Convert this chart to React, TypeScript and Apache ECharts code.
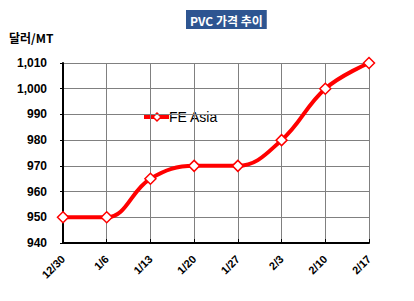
import React, { useEffect, useRef } from "react";
import * as echarts from "echarts";

const categories = ["12/30", "1/6", "1/13", "1/20", "1/27", "2/3", "2/10", "2/17"];
const feAsia = [950, 950, 965, 970, 970, 980, 1000, 1010];
const seriesName = "FE Asia";
const titleText = "PVC 가격 추이";
const unitText = "달러/MT";

export default function App() {
  const ref = useRef<HTMLDivElement>(null);
  useEffect(() => {
    const chart = echarts.init(ref.current!, null, { renderer: "svg" });
    chart.setOption({
      animation: false,
      backgroundColor: "#ffffff",
      textStyle: { fontFamily: "Liberation Sans, Arial, sans-serif" },
      title: {
        text: titleText,
        left: 186,
        top: 10,
        padding: [4, 4, 3, 4],
        backgroundColor: "#2E5591",
        textStyle: { color: "#ffffff", fontSize: 12, fontWeight: "bold", fontFamily: "Noto Sans CJK KR, sans-serif" },
      },
      grid: { left: 63, right: 45, top: 63, bottom: 58 },
      xAxis: {
        type: "category",
        data: categories,
        boundaryGap: false,
        axisLine: { lineStyle: { color: "#000", width: 2 } },
        axisTick: { inside: true, length: 4, lineStyle: { color: "#000" } },
        splitLine: { show: true, lineStyle: { color: "#808080", width: 1 } },
        axisLabel: { rotate: 45, fontSize: 11, fontWeight: "bold", color: "#000", margin: 14 },
      },
      yAxis: {
        type: "value",
        min: 940,
        max: 1010,
        interval: 10,
        axisLine: { show: true, lineStyle: { color: "#000", width: 2 } },
        axisTick: { show: true, length: 3, lineStyle: { color: "#000" } },
        splitLine: { lineStyle: { color: "#808080", width: 1 } },
        axisLabel: {
          fontSize: 12,
          fontWeight: "bold",
          color: "#000",
          margin: 16,
          formatter: (v: number) => v.toLocaleString("en-US"),
        },
      },
      series: [
        {
          name: seriesName,
          type: "line",
          data: feAsia,
          smooth: 0.4,
          symbol: "diamond",
          symbolSize: 11,
          lineStyle: { color: "#ff0000", width: 4 },
          itemStyle: { color: "#ffffff", borderColor: "#ff0000", borderWidth: 1.5 },
        },
      ],
      graphic: [
        {
          type: "text",
          left: 9,
          top: 31,
          style: { text: unitText, fill: "#000", font: "bold 12px 'Noto Sans CJK KR', sans-serif" },
        },
        {
          type: "group",
          left: 144,
          top: 110,
          children: [
            { type: "rect", shape: { x: 0, y: 5, width: 25, height: 4 }, style: { fill: "#ff0000" } },
            {
              type: "polygon",
              shape: { points: [[13, 3], [17, 7], [13, 11], [9, 7]] },
              style: { fill: "#fff", stroke: "#ff0000", lineWidth: 1.5 },
            },
            {
              type: "text",
              x: 25,
              y: 0,
              style: { text: seriesName, fill: "#000", font: "14px 'Liberation Sans', Arial, sans-serif" },
            },
          ],
        },
      ],
    });
    return () => chart.dispose();
  }, []);
  return <div ref={ref} style={{ width: 414, height: 301, position: "absolute", left: 0, top: 0 }} />;
}
